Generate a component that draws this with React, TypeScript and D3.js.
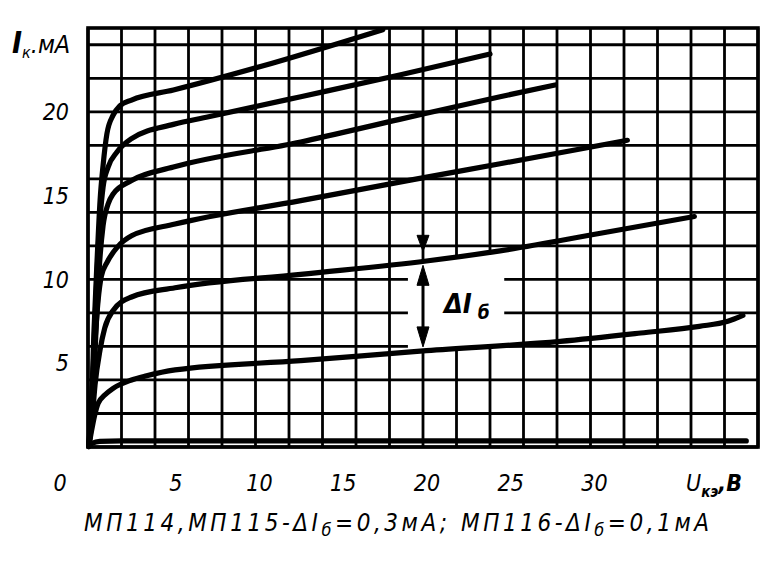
import React from 'react';
import * as d3 from 'd3';

// ---- data ----
const xTickValues = [0, 5, 10, 15, 20, 25, 30];
const xTickLabels = ['0', '5', '10', '15', '20', '25', '30'];
const yTickValues = [5, 10, 15, 20];
const yTickLabels = ['5', '10', '15', '20'];

// collector voltage (V) vs collector current (mA), one array per base current step
const curveIb0: [number, number][] = [[0.05, 0.02], [0.25, 0.22], [0.7, 0.34], [2, 0.36], [39.3, 0.36]];
const curveIb1: [number, number][] = [[0.05, 0.05], [0.2, 0.9], [0.4, 1.9], [0.6, 2.6], [1.0, 3.1], [1.5, 3.5], [2.6, 4.0], [3.5, 4.25], [5.2, 4.6], [12.7, 5.15], [20.2, 5.75], [28.2, 6.3], [33.0, 6.8], [36.5, 7.2], [38.2, 7.5], [39.1, 7.85]];
const curveIb2: [number, number][] = [[0.05, 0.1], [0.24, 1.6], [0.42, 3.7], [0.72, 5.8], [1.0, 7.1], [1.5, 8.15], [2.6, 8.95], [5.2, 9.5], [12.7, 10.3], [20.2, 11.1], [24.6, 11.7], [30.6, 12.75], [36.2, 13.75]];
const curveIb3: [number, number][] = [[0.05, 0.1], [0.2, 2.5], [0.4, 6.0], [0.6, 8.7], [0.8, 10.2], [1.13, 11.0], [1.73, 11.9], [2.6, 12.6], [5.2, 13.3], [12.7, 14.7], [19.4, 15.95], [24.6, 16.9], [32.2, 18.3]];
const curveIb4: [number, number][] = [[0.05, 0.1], [0.3, 2.8], [0.48, 7.0], [0.66, 10.5], [0.9, 13.2], [1.2, 14.5], [1.5, 15.1], [2.6, 15.9], [5.1, 16.7], [12.7, 18.2], [18.6, 19.55], [24.6, 20.9], [27.9, 21.6]];
const curveIb5: [number, number][] = [[0.05, 0.1], [0.24, 2.8], [0.42, 7.6], [0.6, 11.7], [0.9, 15.5], [1.2, 16.7], [1.73, 17.6], [2.6, 18.4], [5.1, 19.25], [7.2, 19.7], [12.7, 20.9], [18.6, 22.2], [24.0, 23.45]];
const curveIb6: [number, number][] = [[0.05, 0.1], [0.18, 1.6], [0.36, 7.0], [0.54, 11.1], [0.72, 14.7], [0.9, 16.8], [1.13, 18.7], [1.5, 19.8], [1.9, 20.35], [2.6, 20.7], [5.1, 21.3], [10.3, 22.7], [17.6, 24.9]];

const curves = [curveIb0, curveIb1, curveIb2, curveIb3, curveIb4, curveIb5, curveIb6];

const deltaAtV = 20; // position of the ΔIб dimension arrow
const clearFromV = 19.1;
const clearToV = 24.85;

const FONT = "'Liberation Sans Narrow','DejaVu Sans Condensed','DejaVu Sans',sans-serif";

function valueAt(c: [number, number][], v: number): number {
  const i = d3.bisector((d: [number, number]) => d[0]).right(c, v);
  const a = c[Math.max(0, i - 1)];
  const b = c[Math.min(c.length - 1, i)];
  if (a[0] === b[0]) return a[1];
  return a[1] + ((v - a[0]) / (b[0] - a[0])) * (b[1] - a[1]);
}

export default function App() {
  const x = d3.scaleLinear().domain([0, 40]).range([88, 758]);
  const y = d3.scaleLinear().domain([0, 25]).range([447, 28]);

  const line = d3
    .line<[number, number]>()
    .x((d) => x(d[0]))
    .y((d) => y(d[1]))
    .curve(d3.curveMonotoneX);

  const gridV = x.ticks(16);
  const gridI = y.ticks(10);

  // cleared area around the ΔIб label (between curve 1 and curve 2)
  const vs = d3.range(clearFromV, clearToV + 0.001, (clearToV - clearFromV) / 10);
  const clearPoly = [
    ...vs.map((v) => [x(v), y(valueAt(curveIb2, v))]),
    ...vs.slice().reverse().map((v) => [x(v), y(valueAt(curveIb1, v))]),
  ]
    .map((p) => p.join(','))
    .join(' ');

  const ax = x(deltaAtV);
  const yTop = y(valueAt(curveIb2, deltaAtV)) + 4;
  const yBot = y(valueAt(curveIb1, deltaAtV)) - 4;
  const ah = 20;
  const aw = 6;

  return (
    <svg
      width={770}
      height={572}
      style={{ position: 'absolute', left: 0, top: 0, background: '#fff' }}
    >
      <rect x={0} y={0} width={770} height={572} fill="#fff" />
      {/* grid */}
      <g stroke="#000" strokeWidth={2.8}>
        {gridV.map((v) => (
          <line key={'v' + v} x1={x(v)} x2={x(v)} y1={y(25)} y2={y(0)} />
        ))}
        {gridI.map((i) => (
          <line key={'h' + i} x1={x(0)} x2={x(40)} y1={y(i)} y2={y(i)} />
        ))}
      </g>
      <rect
        x={x(0)}
        y={y(25)}
        width={x(40) - x(0)}
        height={y(0) - y(25)}
        fill="none"
        stroke="#000"
        strokeWidth={3.6}
      />
      {/* cleared zone for label */}
      <polygon points={clearPoly} fill="#fff" />

      {/* ΔIб dimension arrow */}
      <g fill="#000" stroke="#000">
        <line x1={ax} x2={ax} y1={yTop + ah - 2} y2={yBot - ah + 2} strokeWidth={3} />
        <path d={`M${ax},${yTop} L${ax - aw},${yTop + ah} L${ax + aw},${yTop + ah} Z`} strokeWidth={1} />
        <path d={`M${ax},${yBot} L${ax - aw},${yBot - ah} L${ax + aw},${yBot - ah} Z`} strokeWidth={1} />
        <path
          d={`M${ax},${yTop - 14} L${ax - aw},${yTop - 14 - ah + 4} L${ax + aw},${yTop - 14 - ah + 4} Z`}
          strokeWidth={1}
        />
      </g>

      {/* characteristic curves */}
      <g fill="none" stroke="#000" strokeWidth={5.2} strokeLinecap="round" strokeLinejoin="round">
        {curves.map((c, k) => (
          <path key={k} d={line(c) || ''} />
        ))}
      </g>

      {/* y tick labels */}
      <g fontFamily={FONT} fontStyle="italic" fontSize={23} fill="#000">
        {yTickValues.map((v, k) => (
          <text key={v} x={x(0) - 19} y={y(v)} dy="0.36em" textAnchor="end">
            {yTickLabels[k]}
          </text>
        ))}
      </g>

      {/* x tick labels */}
      <g fontFamily={FONT} fontStyle="italic" fontSize={23} fill="#000">
        {xTickValues.map((v, k) => (
          <text
            key={v}
            x={v === 0 ? x(0) - 28 : x(v) + 4}
            y={y(0) + 44}
            textAnchor="middle"
          >
            {xTickLabels[k]}
          </text>
        ))}
      </g>

      {/* x axis title */}
      <text x={686} y={y(0) + 44} fontFamily={FONT} fontStyle="italic" fill="#000" fontSize={23}>
        U
        <tspan fontSize={15} fontWeight="bold" dy={6}>кэ</tspan>
        <tspan fontWeight="bold" dy={-6}>,В</tspan>
      </text>

      {/* y axis title */}
      <text x={12} y={53} fontFamily={FONT} fontStyle="italic" fill="#000" fontSize={25}>
        <tspan fontWeight="bold" fontSize={30}>I</tspan>
        <tspan fontSize={16} dy={5}>к</tspan>
        <tspan dy={-5}>.мА</tspan>
      </text>

      {/* ΔIб label */}
      <text x={444} y={313} fontFamily={FONT} fontStyle="italic" fontWeight="bold" fill="#000" fontSize={27}>
        ΔI
        <tspan fontSize={19} dx={6} dy={6}>б</tspan>
      </text>

      {/* caption */}
      <text
        x={84}
        y={531}
        fontFamily={FONT}
        fontStyle="italic"
        fill="#000"
        fontSize={24}
        textLength={625}
        lengthAdjust="spacing"
      >
        МП114,МП115-ΔI
        <tspan fontSize={18} dy={5}>б</tspan>
        <tspan dy={-5}>=0,3мА; МП116-ΔI</tspan>
        <tspan fontSize={18} dy={5}>б</tspan>
        <tspan dy={-5}>=0,1мА</tspan>
      </text>
    </svg>
  );
}
